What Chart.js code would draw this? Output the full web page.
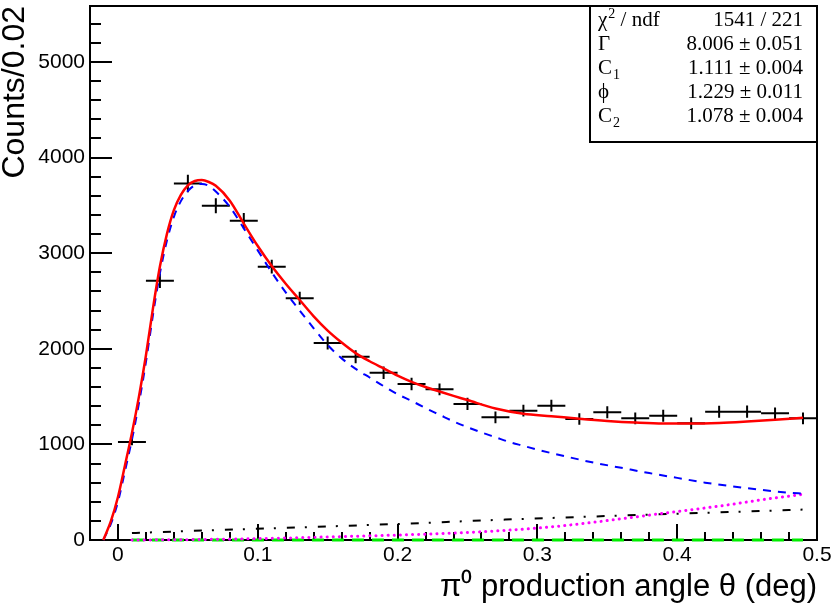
<!DOCTYPE html>
<html>
<head>
<meta charset="utf-8">
<script src="https://cdn.jsdelivr.net/npm/chart.js@4.4.0/dist/chart.umd.min.js"></script>
<style>
    body { margin: 0; background: #fff; }
    #wrap { width: 834px; height: 607px; }
</style>
</head>
<body>
<div id="wrap"><canvas id="fit-chart" width="834" height="607"></canvas></div>
<script>
// histogram, bin width 0.02 deg
const binCenters = [0.01, 0.03, 0.05, 0.07, 0.09, 0.11, 0.13, 0.15, 0.17, 0.19, 0.21, 0.23, 0.25,
    0.27, 0.29, 0.31, 0.33, 0.35, 0.37, 0.39, 0.41, 0.43, 0.45, 0.47, 0.49];
const counts = [1025, 2712, 3730, 3497, 3340, 2859, 2528, 2060, 1917, 1750, 1632, 1576, 1423,
    1283, 1353, 1405, 1266, 1336, 1273, 1300, 1220, 1342, 1342, 1325, 1273];
const countErrors = [35, 75, 92, 78, 80, 72, 68, 68, 68, 66, 65, 61, 64,
    61, 62, 62, 61, 62, 61, 62, 62, 63, 64, 62, 61];
const binHalfWidth = 0.01;

// fit curves
const totalFitX = [-0.0105, -0.005, 0, 0.005, 0.01, 0.015, 0.02, 0.025, 0.03, 0.035, 0.04, 0.045, 0.05,
    0.055, 0.06, 0.065, 0.07, 0.08, 0.09, 0.10, 0.11, 0.12, 0.13, 0.14, 0.15, 0.16, 0.17, 0.18, 0.19,
    0.20, 0.21, 0.22, 0.23, 0.24, 0.25, 0.27, 0.29, 0.31, 0.33, 0.35, 0.37, 0.39, 0.41, 0.43, 0.45, 0.47, 0.49];
const totalFitY = [0, 200, 450, 780, 1120, 1500, 1930, 2420, 2860, 3200, 3450, 3610, 3710,
    3755, 3765, 3745, 3705, 3550, 3310, 3075, 2865, 2680, 2510, 2340, 2190, 2065, 1955, 1870, 1795,
    1720, 1655, 1600, 1553, 1508, 1464, 1375, 1320, 1295, 1268, 1245, 1228, 1218, 1218, 1225, 1240, 1258, 1278];

const signalFitX = [-0.0105, -0.005, 0, 0.005, 0.01, 0.015, 0.02, 0.025, 0.03, 0.035, 0.04, 0.045, 0.05,
    0.055, 0.06, 0.065, 0.07, 0.08, 0.09, 0.10, 0.11, 0.12, 0.13, 0.14, 0.15, 0.16, 0.17, 0.18, 0.19,
    0.20, 0.21, 0.22, 0.23, 0.24, 0.25, 0.26, 0.27, 0.28, 0.29, 0.30, 0.32, 0.34, 0.36, 0.38, 0.40,
    0.42, 0.44, 0.46, 0.48, 0.49];
const signalFitY = [0, 170, 400, 720, 1050, 1430, 1860, 2350, 2790, 3130, 3380, 3545, 3650,
    3710, 3725, 3705, 3645, 3485, 3260, 3030, 2800, 2590, 2400, 2215, 2040, 1900, 1790, 1700, 1610,
    1525, 1455, 1380, 1310, 1240, 1180, 1125, 1075, 1025, 985, 945, 875, 810, 755, 700, 650,
    600, 560, 525, 495, 485];

const interfFitX = [0.01, 0.05, 0.10, 0.15, 0.20, 0.24, 0.28, 0.30, 0.32, 0.34, 0.36, 0.38, 0.40,
    0.42, 0.44, 0.46, 0.49];
const interfFitY = [0, 4, 14, 32, 52, 72, 103, 125, 152, 185, 222, 260, 298,
    335, 375, 420, 478];

const hadronFitX = [0.01, 0.0186, 0.23, 0.24, 0.482, 0.49];
const hadronFitY = [72, 77, 185, 192, 314, 318];

const flatFitX = [0.01, 0.49];
const flatFitY = [0, 0];

const xTickValues = [0, 0.1, 0.2, 0.3, 0.4, 0.5];
const yTickValues = [0, 1000, 2000, 3000, 4000, 5000];

const statLabels = [
    [{ t: 'χ' }, { t: '2', sup: true }, { t: ' / ndf' }],
    [{ t: 'Γ' }],
    [{ t: 'C' }, { t: '1', sub: true }],
    [{ t: 'ϕ' }],
    [{ t: 'C' }, { t: '2', sub: true }],
];
const statValues = ['1541 / 221', '8.006 ± 0.051', '1.111 ± 0.004', '1.229 ± 0.011', '1.078 ± 0.004'];

const SANS = "'Liberation Sans', Arial, sans-serif";
const SERIF = "'Liberation Serif', 'Times New Roman', serif";

function toPoints(xs, ys) {
    return xs.map((x, i) => ({ x: x, y: ys[i] }));
}

function crossSegments() {
    const pts = [];
    binCenters.forEach((x, i) => {
        const y = counts[i];
        const e = countErrors[i];
        pts.push({ x: x - binHalfWidth, y: y }, { x: x + binHalfWidth, y: y }, { x: x, y: null });
        pts.push({ x: x, y: y - e }, { x: x, y: y + e }, { x: x, y: null });
    });
    return pts;
}

function curve(label, xs, ys, color, width, dash, cap) {
    return {
        label: label,
        data: toPoints(xs, ys),
        borderColor: color,
        borderWidth: width,
        borderDash: dash,
        borderCapStyle: cap || 'butt',
        pointRadius: 0,
        fill: false,
        clip: false,
        cubicInterpolationMode: 'monotone',
    };
}

// ROOT style frame with ticks pointing inward + stats box
const rootFrame = {
    id: 'rootFrame',
    beforeDatasetsDraw(chart) {
        const { ctx, chartArea: a, scales: { x, y } } = chart;
        ctx.save();
        ctx.strokeStyle = '#000';
        ctx.lineWidth = 2;
        ctx.beginPath();
        for (let v = 0; v <= y.max + 1; v += 200) {
            const py = Math.round(y.getPixelForValue(v));
            const len = v % 1000 === 0 ? 22 : 11;
            ctx.moveTo(a.left, py);
            ctx.lineTo(a.left + len, py);
        }
        for (let k = -1; k <= 25; k++) {
            const v = k * 0.02;
            const px = Math.round(x.getPixelForValue(v));
            const len = k % 5 === 0 ? 16 : 8;
            ctx.moveTo(px, a.bottom);
            ctx.lineTo(px, a.bottom - len);
        }
        ctx.stroke();
        ctx.strokeRect(a.left, a.top, a.right - a.left, a.bottom - a.top);
        ctx.restore();
    },
    afterDraw(chart) {
        const { ctx, chartArea: a } = chart;
        const boxLeft = 590;
        const boxBottom = 142;
        ctx.save();
        ctx.fillStyle = '#fff';
        ctx.fillRect(boxLeft, a.top, a.right - boxLeft, boxBottom - a.top);
        ctx.strokeStyle = '#000';
        ctx.lineWidth = 2;
        ctx.strokeRect(boxLeft, a.top, a.right - boxLeft, boxBottom - a.top);
        ctx.fillStyle = '#000';
        ctx.textBaseline = 'alphabetic';
        const rowStep = 24;
        statLabels.forEach((parts, i) => {
            const base = 26 + i * rowStep;
            let cx = 598;
            ctx.textAlign = 'left';
            parts.forEach(p => {
                if (p.sup || p.sub) {
                    ctx.font = '14px ' + SERIF;
                    ctx.fillText(p.t, cx + 1, base + (p.sup ? -8 : 5));
                    cx += ctx.measureText(p.t).width + 1;
                } else {
                    ctx.font = '21px ' + SERIF;
                    ctx.fillText(p.t, cx, base);
                    cx += ctx.measureText(p.t).width;
                }
            });
            ctx.font = '21px ' + SERIF;
            ctx.textAlign = 'right';
            ctx.fillText(statValues[i], 803, base);
        });
        ctx.restore();
    }
};

window.addEventListener('DOMContentLoaded', () => {
    const ctx = document.getElementById('fit-chart').getContext('2d');
    new Chart(ctx, {
        type: 'line',
        data: {
            datasets: [
                curve('total', totalFitX, totalFitY, '#ff0000', 2.5, []),
                curve('signal', signalFitX, signalFitY, '#0000ff', 2, [8, 7]),
                curve('interference', interfFitX, interfFitY, '#ff00ff', 3, [0.1, 6], 'round'),
                curve('hadronic', hadronFitX, hadronFitY, '#000000', 2, [8, 10, 2, 11]),
                curve('flat', flatFitX, flatFitY, '#00ee00', 3, [12, 8]),
                {
                    label: 'data',
                    data: crossSegments(),
                    borderColor: '#000',
                    borderWidth: 2,
                    pointRadius: 0,
                    tension: 0,
                    spanGaps: false,
                    fill: false,
                },
            ]
        },
        options: {
            responsive: false,
            animation: false,
            layout: { padding: { left: 0, right: 17, top: 6, bottom: 0 } },
            plugins: {
                legend: { display: false },
                tooltip: { enabled: false },
            },
            scales: {
                x: {
                    type: 'linear',
                    min: -0.02,
                    max: 0.5,
                    grid: { display: false, drawTicks: false },
                    border: { display: false },
                    afterBuildTicks: s => { s.ticks = xTickValues.map(v => ({ value: v })); },
                    afterFit: s => { s.height = 67; s.paddingLeft = 0; s.paddingRight = 0; },
                    ticks: {
                        autoSkip: false,
                        maxRotation: 0,
                        padding: 3,
                        color: '#000',
                        font: { family: SANS, size: 21 },
                        callback: v => (v === 0 ? '0' : v.toFixed(1)),
                    },
                    title: {
                        display: true,
                        text: 'π⁰ production angle θ (deg)',
                        align: 'end',
                        color: '#000',
                        font: { family: SANS, size: 31, lineHeight: 1.2 },
                        padding: { top: 0, bottom: 1 },
                    },
                },
                y: {
                    min: 0,
                    max: 5586,
                    grid: { display: false, drawTicks: false },
                    border: { display: false },
                    afterBuildTicks: s => { s.ticks = yTickValues.map(v => ({ value: v })); },
                    afterFit: s => { s.width = 90; s.paddingTop = 0; s.paddingBottom = 0; },
                    ticks: {
                        padding: 5,
                        color: '#000',
                        font: { family: SANS, size: 21 },
                        callback: v => String(v),
                    },
                    title: {
                        display: true,
                        text: 'Counts/0.02',
                        align: 'end',
                        color: '#000',
                        font: { family: SANS, size: 32, lineHeight: 0.95 },
                        padding: { top: 0, bottom: 0 },
                    },
                },
            },
        },
        plugins: [rootFrame],
    });
});
</script>
</body>
</html>
